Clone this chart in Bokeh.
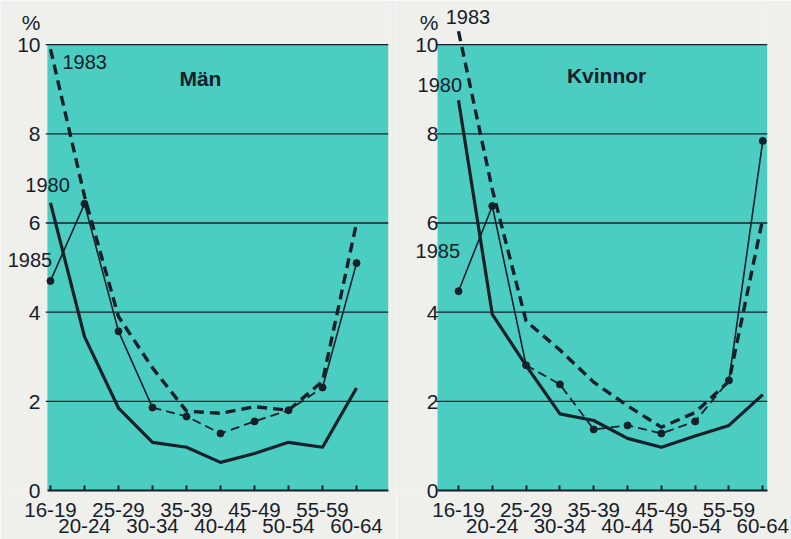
from bokeh.plotting import figure
from bokeh.layouts import row
from bokeh.models import Range1d, FixedTicker, LinearAxis, BoxAnnotation, Label
from bokeh.embed import file_html
from bokeh.resources import INLINE

# ---- data -------------------------------------------------------------
age_groups = ["16-19", "20-24", "25-29", "30-34", "35-39",
              "40-44", "45-49", "50-54", "55-59", "60-64"]
y_ticks = [0, 2, 4, 6, 8, 10]

man_1980 = [6.45, 3.45, 1.85, 1.08, 0.97, 0.63, 0.83, 1.08, 0.97, 2.3]
man_1983 = [9.9, 6.6, 3.9, 2.75, 1.78, 1.73, 1.88, 1.8, 2.45, 6.0]
man_1985 = [4.7, 6.43, 3.57, 1.86, 1.66, 1.28, 1.55, 1.8, 2.31, 5.1]

kv_1980 = [8.75, 3.95, 2.8, 1.72, 1.57, 1.17, 0.97, 1.22, 1.46, 2.15]
kv_1983 = [10.3, 6.75, 3.8, 3.15, 2.43, 1.9, 1.42, 1.75, 2.45, 6.1]
kv_1985 = [4.47, 6.38, 2.81, 2.38, 1.37, 1.46, 1.28, 1.55, 2.47, 7.84]

# ---- style ------------------------------------------------------------
CYAN = "#4bcdc2"
PAGE = "#efefeb"
DARK = "#16202a"
FONT = "Liberation Sans"

xs = list(range(len(age_groups)))


def make_panel(title, title_pos, s1980, s1983, s1985, solid_end, solid_start,
               x_start, cyan_start, x_end, width, b_right, y_standoff, labels):
    p = figure(width=width, height=539,
               x_range=Range1d(x_start, x_end), y_range=Range1d(0, 10.99),
               output_backend="svg", toolbar_location=None,
               min_border_left=0, min_border_right=b_right,
               min_border_top=0, min_border_bottom=49,
               background_fill_color=PAGE, border_fill_color=PAGE,
               outline_line_color=None)

    p.add_layout(BoxAnnotation(left=cyan_start, bottom=0, top=10, fill_color=CYAN,
                               fill_alpha=1, line_color=None, level="image"))

    p.xgrid.visible = False
    p.ygrid.visible = False
    gy = y_ticks[1:]
    p.segment(x0=[cyan_start - 0.05] * len(gy), x1=[x_end] * len(gy), y0=gy, y1=gy,
              line_color=DARK, line_width=1.3)

    # y axis (labels pushed inside to sit beside the coloured area)
    p.yaxis.ticker = FixedTicker(ticks=y_ticks + [10.5])
    p.yaxis.major_label_overrides = {10.5: "%"}
    p.yaxis.axis_line_color = None
    p.yaxis.major_tick_line_color = None
    p.yaxis.major_tick_out = 0
    p.yaxis.major_tick_in = 0
    p.yaxis.minor_tick_line_color = None
    p.yaxis.major_label_text_font = FONT
    p.yaxis.major_label_text_font_size = "21px"
    p.yaxis.major_label_text_color = DARK
    p.yaxis.major_label_standoff = y_standoff

    # x axis (even labels) + second row (odd labels)
    p.xaxis.ticker = FixedTicker(ticks=xs)
    p.xaxis.bounds = (cyan_start, x_end)
    p.xaxis.major_label_overrides = {i: (age_groups[i] if i % 2 == 0 else "") for i in xs}
    p.xaxis.axis_line_color = DARK
    p.xaxis.axis_line_width = 2
    p.xaxis.major_tick_line_color = DARK
    p.xaxis.major_tick_line_width = 2
    p.xaxis.major_tick_in = 5
    p.xaxis.major_tick_out = 0
    p.xaxis.minor_tick_line_color = None
    p.xaxis.major_label_text_font = FONT
    p.xaxis.major_label_text_font_size = "20.5px"
    p.xaxis.major_label_text_color = DARK
    p.xaxis.major_label_standoff = 12

    odd = [i for i in xs if i % 2 == 1]
    ax2 = LinearAxis(ticker=FixedTicker(ticks=odd),
                     major_label_overrides={i: age_groups[i] for i in odd})
    ax2.axis_line_color = None
    ax2.major_tick_line_color = None
    ax2.major_tick_in = 0
    ax2.major_tick_out = 0
    ax2.minor_tick_line_color = None
    ax2.major_label_text_font = FONT
    ax2.major_label_text_font_size = "20.5px"
    ax2.major_label_text_color = DARK
    ax2.major_label_standoff = -1
    p.add_layout(ax2, "below")

    # series
    p.line(xs, s1980, line_color=DARK, line_width=3.2, line_join="round")
    p.line(xs, s1983, line_color=DARK, line_width=3.4, line_dash="10 6")
    p.line(xs[:solid_end + 1], s1985[:solid_end + 1], line_color=DARK, line_width=1.6)
    p.line(xs[solid_end:solid_start + 1], s1985[solid_end:solid_start + 1],
           line_color=DARK, line_width=1.8, line_dash="9 5")
    p.line(xs[solid_start:], s1985[solid_start:], line_color=DARK, line_width=1.6)
    p.scatter(xs, s1985, size=7, color=DARK)

    p.add_layout(Label(x=title_pos[0], y=title_pos[1], text=title, text_font=FONT,
                       text_font_size="21px", text_font_style="bold",
                       text_color=DARK, text_align="center", text_baseline="middle"))
    for (lx, ly, txt) in labels:
        p.add_layout(Label(x=lx, y=ly, text=txt, text_font=FONT,
                           text_font_size="20px", text_color=DARK,
                           text_align="left", text_baseline="middle"))
    return p


p1 = make_panel("Män", (4.41, 9.24), man_1980, man_1983, man_1985, 3, 8,
                -1.47, -0.09, 9.94, 396, 8, -40,
                [(0.35, 9.6, "1983"), (-0.74, 6.86, "1980"), (-1.26, 5.18, "1985")])
p2 = make_panel("Kvinnor", (4.38, 9.3), kv_1980, kv_1983, kv_1985, 2, 8,
                -1.834, -0.62, 9.14, 395, 24, -42,
                [(-0.38, 10.63, "1983"), (-1.21, 9.1, "1980"), (-1.27, 5.38, "1985")])

layout = row(p1, p2)
open("out.html", "w").write(file_html(layout, INLINE))
